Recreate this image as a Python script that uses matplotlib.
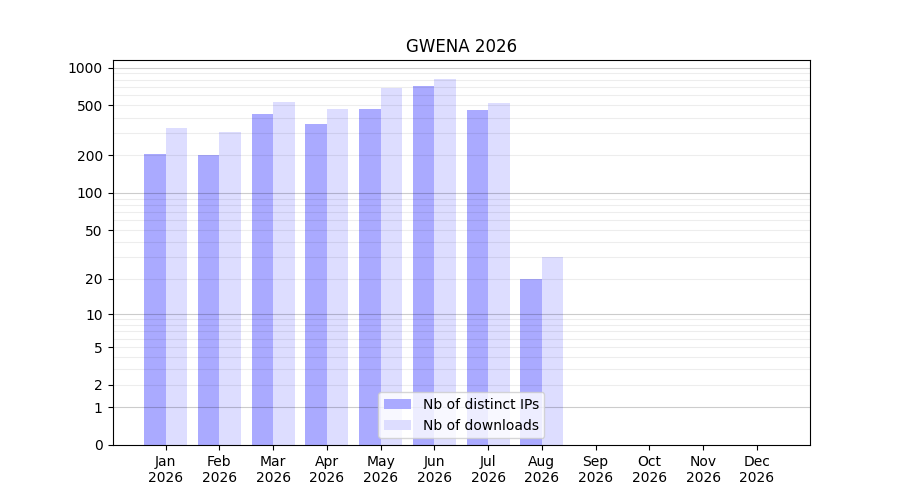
import matplotlib
matplotlib.use("Agg")
import matplotlib.pyplot as plt
import numpy as np
from matplotlib import ticker

months = ["Jan", "Feb", "Mar", "Apr", "May", "Jun", "Jul", "Aug", "Sep", "Oct", "Nov", "Dec"]
year = "2026"
distinct_ips = [206, 201, 427, 355, 467, 712, 459, 20, 0, 0, 0, 0]
downloads = [330, 307, 531, 467, 686, 808, 521, 30, 0, 0, 0, 0]
y_ticks = [0, 1, 2, 5, 10, 20, 50, 100, 200, 500, 1000]


def fwd(v):
    return np.log10(np.asarray(v, dtype=float) + 1)


def inv(v):
    return 10 ** np.asarray(v, dtype=float) - 1


fig, ax = plt.subplots(figsize=(9, 5), dpi=100)
x = np.arange(len(months))
bar_width = 0.4

ax.bar(x - bar_width / 2, distinct_ips, bar_width, color="#aaaaff", label="Nb of distinct IPs")
ax.bar(x + bar_width / 2, downloads, bar_width, color="#ddddff", label="Nb of downloads")

ax.set_yscale("function", functions=(fwd, inv))
ax.set_ylim(0, 1150)

# grid: darker at decades, faint at the other integers of each decade
for decade in [1, 10, 100, 1000]:
    ax.axhline(decade, color="black", alpha=0.2, linewidth=0.8, zorder=3)
    if decade < 1000:
        for m in range(2, 10):
            ax.axhline(m * decade, color="black", alpha=0.07, linewidth=0.8, zorder=3)

ax.yaxis.set_major_locator(ticker.FixedLocator(y_ticks))
ax.yaxis.set_major_formatter(ticker.FixedFormatter([str(t) for t in y_ticks]))
ax.yaxis.set_minor_locator(ticker.NullLocator())

ax.set_xticks(x, [f"{m}\n{year}" for m in months])
ax.set_title("GWENA 2026")
ax.legend(loc="lower center")

plt.savefig("out.png")
